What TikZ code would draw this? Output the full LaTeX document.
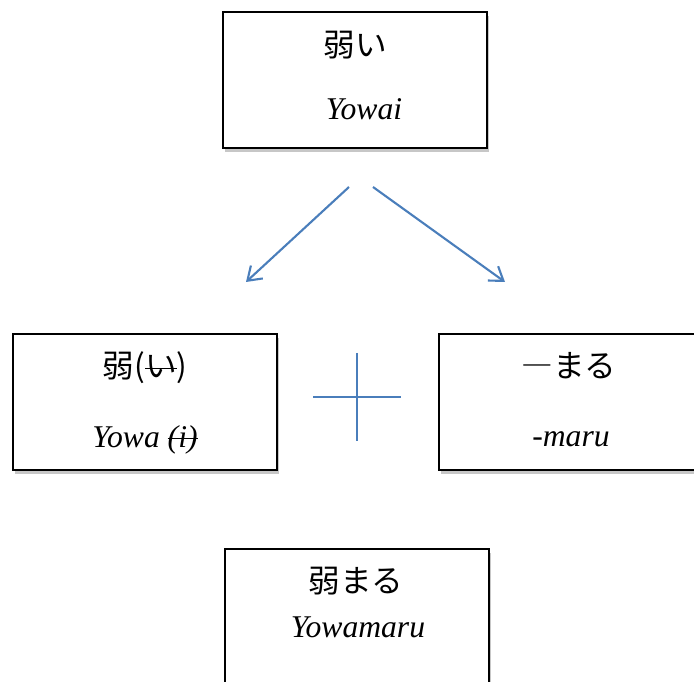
\documentclass[tikz,border=0pt]{standalone}
\usepackage{fontspec}
\setmainfont{Liberation Serif}
\newfontfamily\cjk{Noto Sans CJK JP}
\usetikzlibrary{arrows.meta,shadows}
\definecolor{linkblue}{HTML}{4A7EBB}
\newsavebox\strkbox
\newcommand\strk[1]{\sbox\strkbox{#1}\rlap{\raisebox{0.28em}{\rule{\wd\strkbox}{0.8pt}}}\usebox\strkbox}
\begin{document}
\begin{tikzpicture}[x=0.03cm,y=-0.03cm, every node/.style={font=\fontsize{27}{31}\selectfont},
  wordbox/.style={draw,line width=1.2pt,fill=white,minimum width=7.92cm,minimum height=4.08cm,inner sep=0pt,
    drop shadow={shadow xshift=1.5pt,shadow yshift=-3pt,fill=black,opacity=0.22}},
  jp/.style={anchor=base,font=\fontsize{27}{31}\selectfont\cjk},
  ro/.style={anchor=base,font=\fontsize{27}{31}\selectfont\itshape},
  link/.style={draw=linkblue,line width=1.8pt,-{Straight Barb[length=11pt,width=15pt,line width=1.8pt]}},
  plusbar/.style={draw=linkblue,line width=1.4pt}]
\useasboundingbox (0,0) rectangle (694,682);
\clip (0,0) rectangle (694,682);
\node[wordbox] (weak) at (355,80) {};
\node[jp] (weakjp) at (355,57) {弱い};
\node[ro] (weakro) at (364,120) {Yowai};
\node[wordbox] (stem) at (145,402) {};
\node[jp] (stemjp) at (145,378) {弱(\strk{い})};
\node[ro] (stemro) at (145,448) {Yowa \strk{(i)}};
\node[wordbox] (suffix) at (571,402) {};
\node[jp] (suffixjp) at (569,378) {―まる};
\node[ro] (suffixro) at (571,447) {-maru};
\node[wordbox] (result) at (357,617) {};
\node[jp] (resultjp) at (356,592) {弱まる};
\node[ro] (resultro) at (358,637) {Yowamaru};
% split arrows
\coordinate (splitl) at (349,187); \coordinate (tipl) at (246,282);
\coordinate (splitr) at (373,187); \coordinate (tipr) at (505,282);
\draw[link] (splitl) -- (tipl); \draw[link] (splitr) -- (tipr);
% plus sign
\coordinate (plusw) at (313,397); \coordinate (pluse) at (401,397);
\coordinate (plusn) at (357,353); \coordinate (pluss) at (357,441);
\draw[plusbar] (plusw) -- (pluse); \draw[plusbar] (plusn) -- (pluss);
\end{tikzpicture}
\end{document}
